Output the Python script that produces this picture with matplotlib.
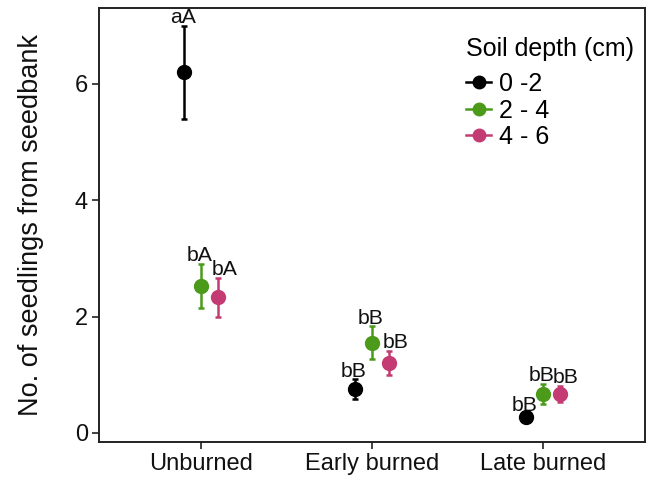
import matplotlib
matplotlib.use("Agg")
import matplotlib.pyplot as plt
import numpy as np
from matplotlib.lines import Line2D

plt.rcParams['font.family'] = ['Liberation Sans', 'DejaVu Sans']

categories = ["Unburned", "Early burned", "Late burned"]
depths = ["0 -2", "2 - 4", "4 - 6"]
colors = ["#000000", "#4b9a1a", "#c43a72"]

means = {
    "0 -2": [6.20, 0.75, 0.27],
    "2 - 4": [2.53, 1.55, 0.67],
    "4 - 6": [2.33, 1.20, 0.67],
}
errors = {
    "0 -2": [0.80, 0.17, 0.05],
    "2 - 4": [0.38, 0.28, 0.17],
    "4 - 6": [0.33, 0.21, 0.14],
}
labels = {
    "0 -2": ["aA", "bB", "bB"],
    "2 - 4": ["bA", "bB", "bB"],
    "4 - 6": ["bA", "bB", "bB"],
}
offsets = [-0.1, 0.0, 0.1]
label_nudge = [-0.005, -0.008, 0.037]

fig = plt.figure(figsize=(6.51, 4.83), dpi=100)
ax = fig.add_axes([0.152, 0.085, 0.839, 0.898])

x = np.arange(1, len(categories) + 1)
for d, c, off, nud in zip(depths, colors, offsets, label_nudge):
    xs = x + off
    m = np.array(means[d])
    e = np.array(errors[d])
    ax.errorbar(xs, m, yerr=e, fmt='o', color=c, ecolor=c, markersize=10,
                elinewidth=1.8, capsize=2.5, capthick=1.8, zorder=3)
    for xi, mi, ei, lab in zip(xs, m, e, labels[d]):
        ax.text(xi + nud, mi + ei - 0.02, lab, ha='center', va='bottom', fontsize=15.3, color='#111111')

ax.set_xlim(0.4, 3.6)
ax.set_ylim(-0.155, 7.3)
ax.set_xticks(x)
ax.set_xticklabels(categories, fontsize=17, color='#111111')
ax.set_yticks([0, 2, 4, 6])
ax.set_yticklabels(["0", "2", "4", "6"], fontsize=17, color='#111111')
ax.tick_params(axis='both', length=5, width=1.3, color='#333333', pad=3)
for s in ax.spines.values():
    s.set_linewidth(1.4)
    s.set_color('#222222')
ax.set_ylabel("No. of seedlings from seedbank", fontsize=19.5, color='#111111', labelpad=22)

handles = [Line2D([0], [0], color=c, marker='o', markersize=9, linewidth=1.8) for c in colors]
leg = ax.legend(handles, depths, title="Soil depth (cm)", loc='upper left',
                bbox_to_anchor=(0.645, 0.968), frameon=False, fontsize=18,
                title_fontsize=18, handlelength=1.0, handletextpad=0.3,
                labelspacing=0.1, borderaxespad=0.2)
leg._legend_box.align = "left"
leg._legend_box.sep = 8

fig.savefig("out.png", dpi=100)
